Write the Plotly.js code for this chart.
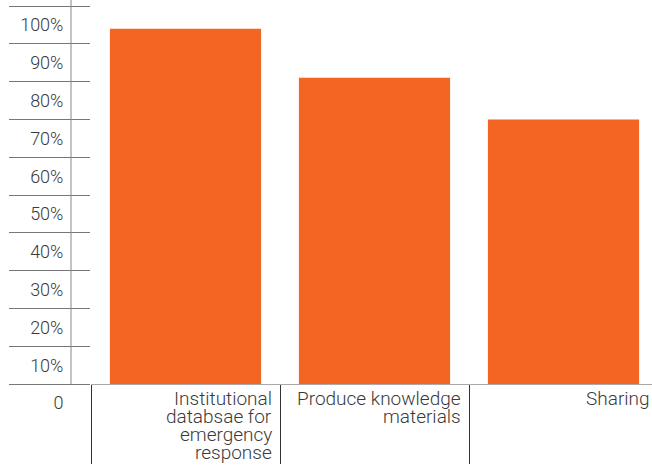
<!DOCTYPE html>
<html>
<head>
<meta charset="utf-8">
<script src="https://cdn.plot.ly/plotly-3.0.1.min.js"></script>
<style>
  html, body { margin: 0; padding: 0; overflow: hidden; background: #fff; }
</style>
</head>
<body>
<div id="chart"></div>
<script>
// Share of respondents per activity (%)
const categories = [
  'Institutional<br>databsae for<br>emergency<br>response',
  'Produce knowledge<br>materials',
  'Sharing'
];
const values = [94, 81, 70];
const tickValues = [0, 10, 20, 30, 40, 50, 60, 70, 80, 90, 100];
const tickLabels = ['0', '10%', '20%', '30%', '40%', '50%', '60%', '70%', '80%', '90%', '100%'];

const tickFont = { family: 'Roboto, "Noto Sans", sans-serif', size: 18, weight: 300, color: '#3a3a3a' };
const labelFont = { family: 'Roboto, "Noto Sans", sans-serif', size: 19, weight: 300, color: '#3a3a3a' };
const lineStep = 18;

// Right-aligned, tightly spaced category labels under each bar slot
const annotations = [];
categories.forEach((cat, i) => {
  cat.split('<br>').forEach((line, k) => {
    annotations.push({
      text: line,
      xref: 'x', yref: 'paper',
      x: i + 0.5, y: 0,
      xanchor: 'right', yanchor: 'top',
      xshift: -6, yshift: -1 - k * lineStep,
      showarrow: false,
      font: labelFont
    });
  });
});

const trace = {
  type: 'bar',
  x: categories,
  y: values,
  marker: { color: '#f26522' },
  hoverinfo: 'none'
};

const layout = {
  width: 660,
  height: 467,
  margin: { l: 91, r: 2, t: 0, b: 83 },
  paper_bgcolor: '#fff',
  plot_bgcolor: '#fff',
  bargap: 0.2,
  showlegend: false,
  font: tickFont,
  xaxis: {
    type: 'category',
    range: [-0.5, 2.5],
    showticklabels: false,
    ticks: 'outside',
    tickson: 'boundaries',
    ticklen: 79,
    tickwidth: 1,
    tickcolor: '#333',
    showline: true,
    linecolor: '#aaa',
    linewidth: 1,
    showgrid: false,
    zeroline: false,
    fixedrange: true
  },
  yaxis: {
    range: [0, 101.6],
    tickmode: 'array',
    tickvals: tickValues,
    ticktext: tickLabels,
    ticks: 'outside',
    ticklen: 81,
    tickwidth: 1,
    tickcolor: '#777',
    ticklabelshift: 19,
    ticklabelstandoff: -58,
    tickfont: tickFont,
    showline: false,
    showgrid: false,
    zeroline: false,
    fixedrange: true
  },
  shapes: [{
    type: 'line',
    xref: 'paper', yref: 'paper',
    x0: -20 / 567, x1: -20 / 567, y0: 0, y1: 1,
    line: { color: '#888', width: 1 }
  }],
  annotations: annotations
};

Plotly.newPlot('chart', [trace], layout, { displayModeBar: false, staticPlot: true });
</script>
</body>
</html>
